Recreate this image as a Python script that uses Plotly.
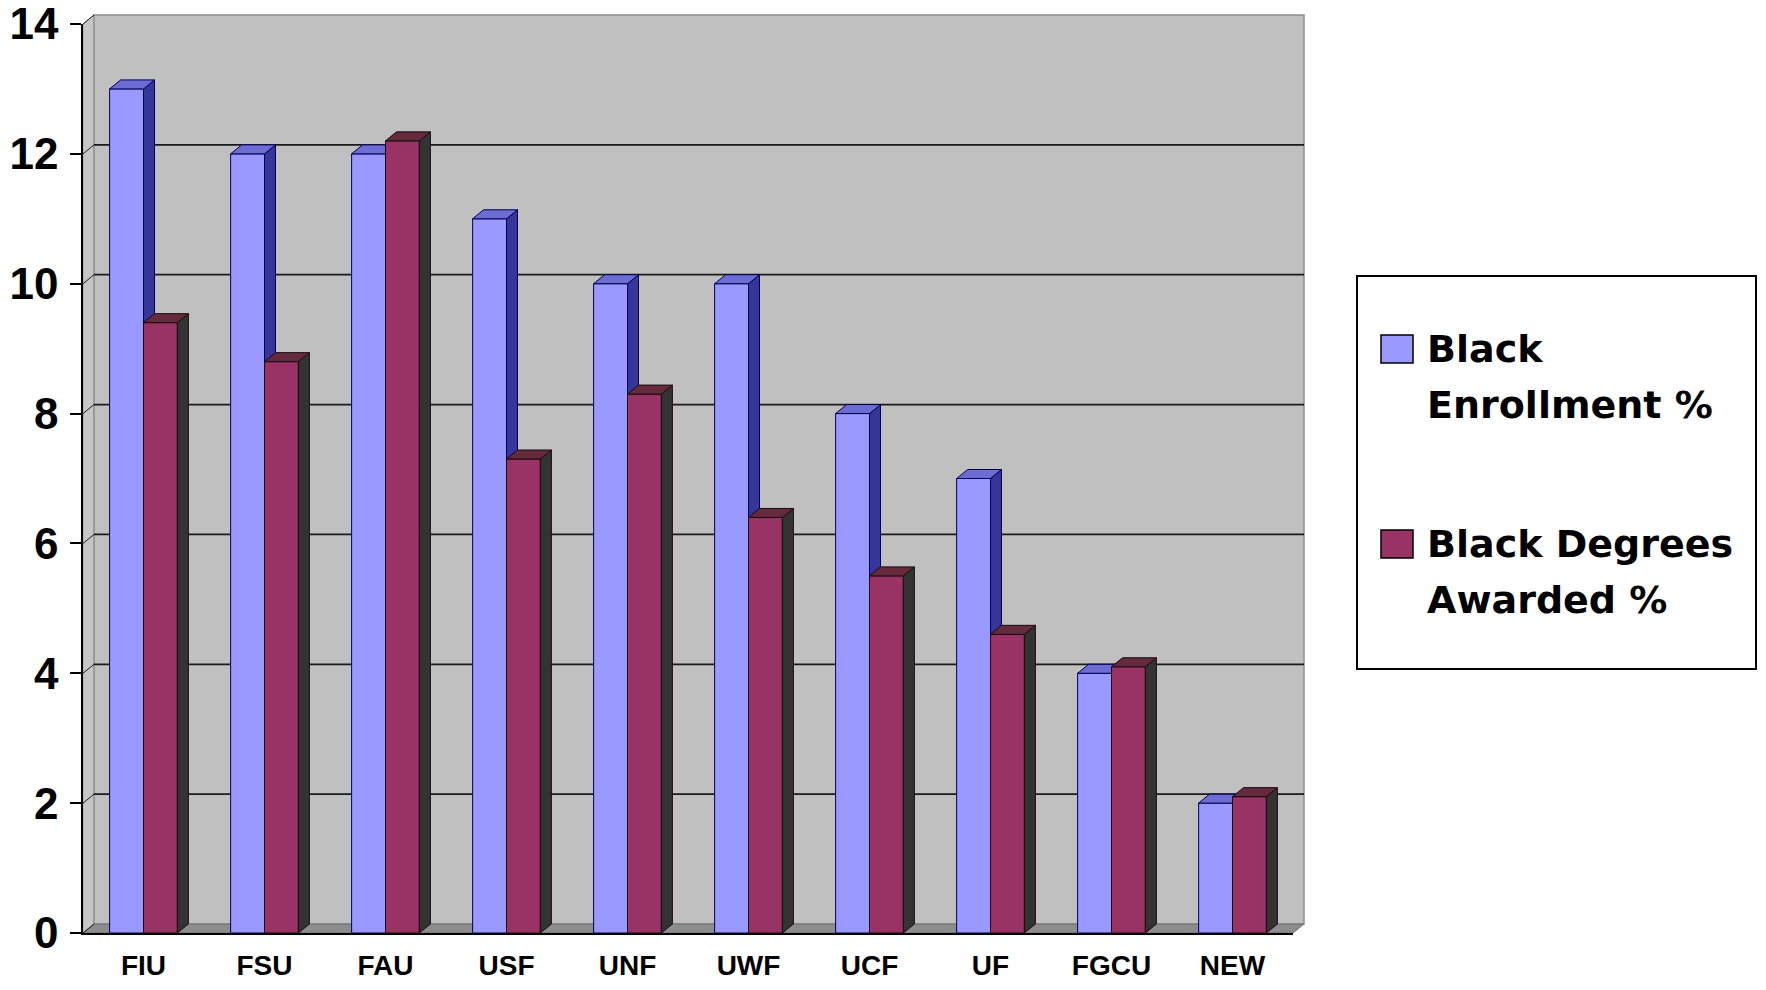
import plotly.graph_objects as go

# ---------------- data ----------------
universities = ["FIU", "FSU", "FAU", "USF", "UNF", "UWF", "UCF", "UF", "FGCU", "NEW"]
enrollment_pct = [13, 12, 12, 11, 10, 10, 8, 7, 4, 2]
degrees_pct = [9.4, 8.8, 12.2, 7.3, 8.3, 6.4, 5.5, 4.6, 4.1, 2.1]
series_names = ["Black Enrollment %", "Black Degrees Awarded %"]
y_ticks = [0, 2, 4, 6, 8, 10, 12, 14]

# ---------------- styling / geometry ----------------
BODY = 8                                     # default HTML body margin
FIG_W, FIG_H = 1766 - 2 * BODY, 990 - 2 * BODY
# plot area in window pixels
WL, WR, WT, WB = 83, 1293, 24, 933
PL, PR, PT, PB = WL - BODY, WR - BODY, WT - BODY, WB - BODY
PW, PH = PR - PL, PB - PT
YMAX = 14
NCAT = len(universities)
DEPTH_X_PX, DEPTH_Y_PX = 11, 9               # 3-D depth offset in pixels
DX = DEPTH_X_PX * NCAT / PW                  # in data units
DY = DEPTH_Y_PX * YMAX / PH
DXp = DEPTH_X_PX / PW                        # in paper units
DYp = DEPTH_Y_PX / PH
BAR_W = 0.28

C_ENR = "#9999FF"; C_ENR_SIDE = "#35359A"; C_ENR_TOP = "#6C6CD2"; C_ENR_LINE = "#000050"
C_DEG = "#993366"; C_DEG_SIDE = "#333333"; C_DEG_TOP = "#652B3D"; C_DEG_LINE = "#1A0A10"


def px_x(wx):
    return (wx - WL) / PW


def px_y(wy):
    return (WB - wy) / PH


def prism_faces(values, offset):
    sx, sy, tx, ty = [], [], [], []
    for i, v in enumerate(values):
        xl = i + offset
        xr = xl + BAR_W
        sx += [xr, xr, xr + DX, xr + DX, xr, None]
        sy += [0, v, v + DY, DY, 0, None]
        tx += [xl, xr, xr + DX, xl + DX, xl, None]
        ty += [v, v, v + DY, v + DY, v, None]
    return sx, sy, tx, ty


idx = list(range(NCAT))
fig = go.Figure()

# enrollment (main subplot)
fig.add_trace(go.Bar(x=idx, y=enrollment_pct, width=BAR_W, offset=-BAR_W, name=series_names[0],
                     marker=dict(color=C_ENR, line=dict(color=C_ENR_LINE, width=1)),
                     showlegend=False, hoverinfo="skip"))
sx, sy, tx, ty = prism_faces(enrollment_pct, -BAR_W)
fig.add_trace(go.Scatter(x=sx, y=sy, fill="toself", mode="lines", fillcolor=C_ENR_SIDE,
                         line=dict(color=C_ENR_LINE, width=1), showlegend=False, hoverinfo="skip"))
fig.add_trace(go.Scatter(x=tx, y=ty, fill="toself", mode="lines", fillcolor=C_ENR_TOP,
                         line=dict(color=C_ENR_LINE, width=1), showlegend=False, hoverinfo="skip"))

# degrees (overlay subplot, drawn on top)
fig.add_trace(go.Bar(x=idx, y=degrees_pct, width=BAR_W, offset=0, name=series_names[1],
                     marker=dict(color=C_DEG, line=dict(color=C_DEG_LINE, width=1)),
                     xaxis="x2", yaxis="y2", showlegend=False, hoverinfo="skip"))
sx, sy, tx, ty = prism_faces(degrees_pct, 0)
fig.add_trace(go.Scatter(x=sx, y=sy, fill="toself", mode="lines", fillcolor=C_DEG_SIDE,
                         line=dict(color=C_DEG_LINE, width=1), xaxis="x2", yaxis="y2",
                         showlegend=False, hoverinfo="skip"))
fig.add_trace(go.Scatter(x=tx, y=ty, fill="toself", mode="lines", fillcolor=C_DEG_TOP,
                         line=dict(color=C_DEG_LINE, width=1), xaxis="x2", yaxis="y2",
                         showlegend=False, hoverinfo="skip"))

# ---------------- 3-D walls (paper coords) ----------------
shapes = []
shapes.append(dict(type="path", xref="paper", yref="paper", layer="below",
                   path=f"M 0,0 L 0,1 L {DXp},{1+DYp} L {DXp},{DYp} Z",
                   fillcolor="#C6C6C6", line=dict(color="#A0A0A0", width=1)))
shapes.append(dict(type="rect", xref="paper", yref="paper", layer="below",
                   x0=DXp, y0=DYp, x1=1 + DXp, y1=1 + DYp,
                   fillcolor="#C0C0C0", line=dict(color="#8E8E8E", width=1.5)))
shapes.append(dict(type="path", xref="paper", yref="paper", layer="below",
                   path=f"M 0,0 L {DXp},{DYp} L {1+DXp},{DYp} L 1,0 Z",
                   fillcolor="#8C8C8C", line=dict(color="#6E6E6E", width=1)))
for v in y_ticks[1:-1]:
    yp = v / YMAX
    shapes.append(dict(type="line", xref="paper", yref="paper", layer="below",
                       x0=DXp, x1=1 + DXp, y0=yp + DYp, y1=yp + DYp,
                       line=dict(color="#1A1A1A", width=1.8)))
for v in y_ticks:
    yp = v / YMAX
    shapes.append(dict(type="line", xref="paper", yref="paper", layer="below",
                       x0=0, x1=DXp, y0=yp, y1=yp + DYp,
                       line=dict(color="#1E1E1E", width=1)))

# ---------------- manual legend ----------------
shapes.append(dict(type="rect", xref="paper", yref="paper",
                   x0=px_x(1357), x1=px_x(1756), y0=px_y(669), y1=px_y(276),
                   fillcolor="white", line=dict(color="black", width=2)))
legend_items = [
    (C_ENR, 335, ["Black", "Enrollment %"], [349.5, 404.5]),
    (C_DEG, 530, ["Black Degrees", "Awarded %"], [544, 599.5]),
]
annotations = []
for color, sq_top, lines, centers in legend_items:
    shapes.append(dict(type="rect", xref="paper", yref="paper",
                       x0=px_x(1381), x1=px_x(1413), y0=px_y(sq_top + 28), y1=px_y(sq_top),
                       fillcolor=color, line=dict(color="black", width=1.5)))
    for txt, cy in zip(lines, centers):
        annotations.append(dict(xref="paper", yref="paper", x=px_x(1425), y=px_y(cy),
                                xanchor="left", yanchor="middle", showarrow=False, text=txt,
                                font=dict(family="DejaVu Sans", size=38, weight="bold", color="black")))

fig.update_layout(
    width=FIG_W, height=FIG_H,
    margin=dict(l=PL, r=FIG_W - PR, t=PT, b=FIG_H - PB, autoexpand=False),
    paper_bgcolor="white", plot_bgcolor="rgba(0,0,0,0)",
    barmode="overlay", showlegend=False,
    shapes=shapes, annotations=annotations,
    xaxis=dict(range=[-0.5, NCAT - 0.5], tickmode="array", tickvals=idx, ticktext=universities,
               showgrid=False, zeroline=False, showline=True, linecolor="black", linewidth=1.5,
               ticks="", ticklabelstandoff=7, ticklabeloverflow="allow",
               tickfont=dict(family="Liberation Sans", size=28, weight="bold", color="black")),
    yaxis=dict(range=[0, YMAX], tickmode="array", tickvals=y_ticks,
               showgrid=False, zeroline=False, showline=True, linecolor="black", linewidth=1.5,
               ticks="outside", ticklen=11, tickwidth=1.5, tickcolor="black", ticklabelstandoff=3,
               ticklabeloverflow="allow",
               tickfont=dict(family="Liberation Sans", size=44, weight="bold", color="black")),
    xaxis2=dict(range=[-0.5, NCAT - 0.5], overlaying="x", visible=False),
    yaxis2=dict(range=[0, YMAX], overlaying="y", visible=False),
)

fig.write_html("out.html")
